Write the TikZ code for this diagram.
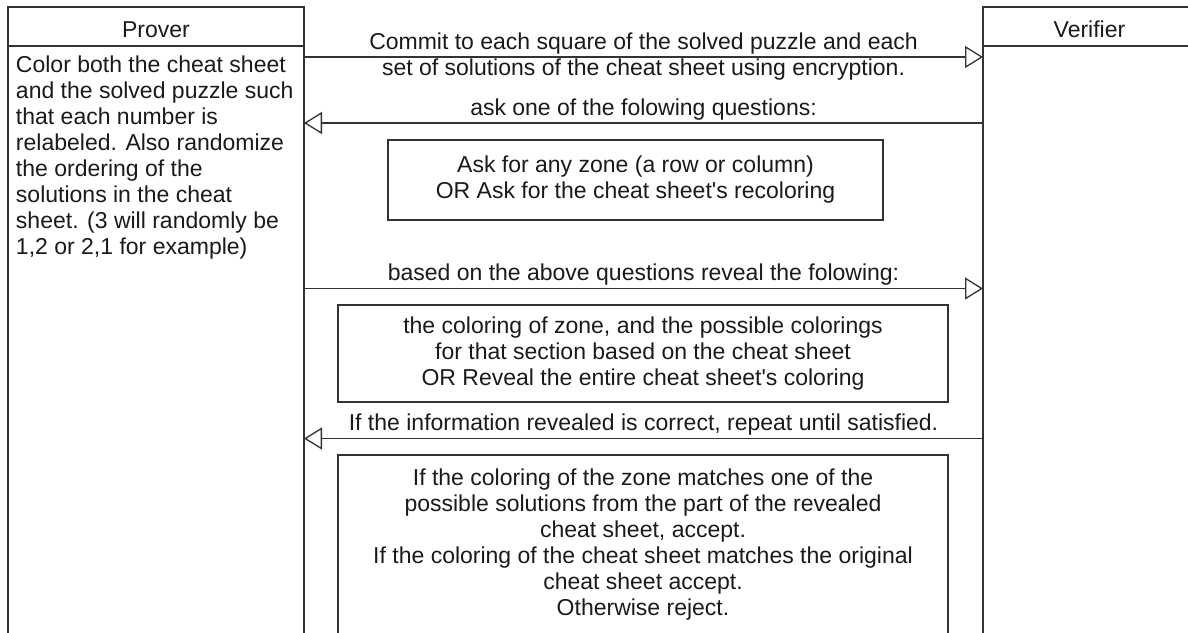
\documentclass[tikz,border=0pt]{standalone}
\usepackage{fontspec}
\setmainfont{Liberation Sans}
\usetikzlibrary{positioning, arrows.meta}
\definecolor{linegray}{HTML}{333333}
\definecolor{textgray}{HTML}{1A1A1A}

\begin{document}
\begin{tikzpicture}[x=1pt, y=-1pt, node distance=0pt,
  font=\fontsize{23}{26}\selectfont, text=textgray,
  every node/.style={outer sep=0pt},
  lifehead/.style={draw=linegray, line width=1.3pt, minimum height=39pt, inner sep=0pt, text height=21pt, text depth=0pt},
  lifebody/.style={draw=linegray, line width=1.3pt, minimum height=640pt},
  note/.style={draw=linegray, line width=1.3pt, align=center, inner sep=0pt},
  msg/.style={draw=linegray, line width=1.3pt, -{Triangle[open, length=18pt, width=22pt]}},
  msgtext/.style={above, inner sep=3pt}]
  \useasboundingbox (0,0) rectangle (1188,632);

  % lifelines
  \node[lifehead, minimum width=296pt] (PH) at (156,26.5) {Prover};
  \node[lifebody, minimum width=296pt, below=0pt of PH] (PB) {};
  \node[lifehead, minimum width=213pt] (VH) at (1089.5,26.5) {Verifier};
  \node[lifebody, minimum width=213pt, below=0pt of VH] (VB) {};
  \node[anchor=north west, align=left, inner sep=0pt] (PT) at ([shift={(8,9.5)}]PB.north west)
    {Color both the cheat sheet\\and the solved puzzle such\\that each number is\\relabeled. Also randomize\\the ordering of the\\solutions in the cheat\\sheet. (3 will randomly be\\1,2 or 2,1 for example)};

  % message heights
  \coordinate (m1) at (0,57);
  \coordinate (m2) at (0,123);
  \coordinate (m3) at (0,288.5);
  \coordinate (m4) at (0,438.5);

  \draw[msg] (PB.east |- m1) -- node[align=center, inner sep=0pt] {Commit to each square of the solved puzzle and each\\set of solutions of the cheat sheet using encryption.} (VB.west |- m1);
  \draw[msg] (VB.west |- m2) -- node[msgtext] {ask one of the folowing questions:} (PB.east |- m2);
  \node[note, minimum width=495pt, minimum height=80pt] (Q) at (635.5,180)
    {Ask for any zone (a row or column)\\OR Ask for the cheat sheet\textquotesingle s recoloring};
  \draw[msg] (PB.east |- m3) -- node[msgtext] {based on the above questions reveal the folowing:} (VB.west |- m3);
  \node[note, minimum width=610pt, minimum height=97pt] (R) at (643,353.5)
    {the coloring of zone, and the possible colorings\\for that section based on the cheat sheet\\OR Reveal the entire cheat sheet\textquotesingle s coloring};
  \draw[msg] (VB.west |- m4) -- node[msgtext] {If the information revealed is correct, repeat until satisfied.} (PB.east |- m4);
  \node[note, minimum width=610pt, minimum height=180pt, below=53pt of R] (C)
    {If the coloring of the zone matches one of the\\possible solutions from the part of the revealed\\cheat sheet, accept.\\If the coloring of the cheat sheet matches the original\\cheat sheet accept.\\Otherwise reject.};
\end{tikzpicture}
\end{document}
